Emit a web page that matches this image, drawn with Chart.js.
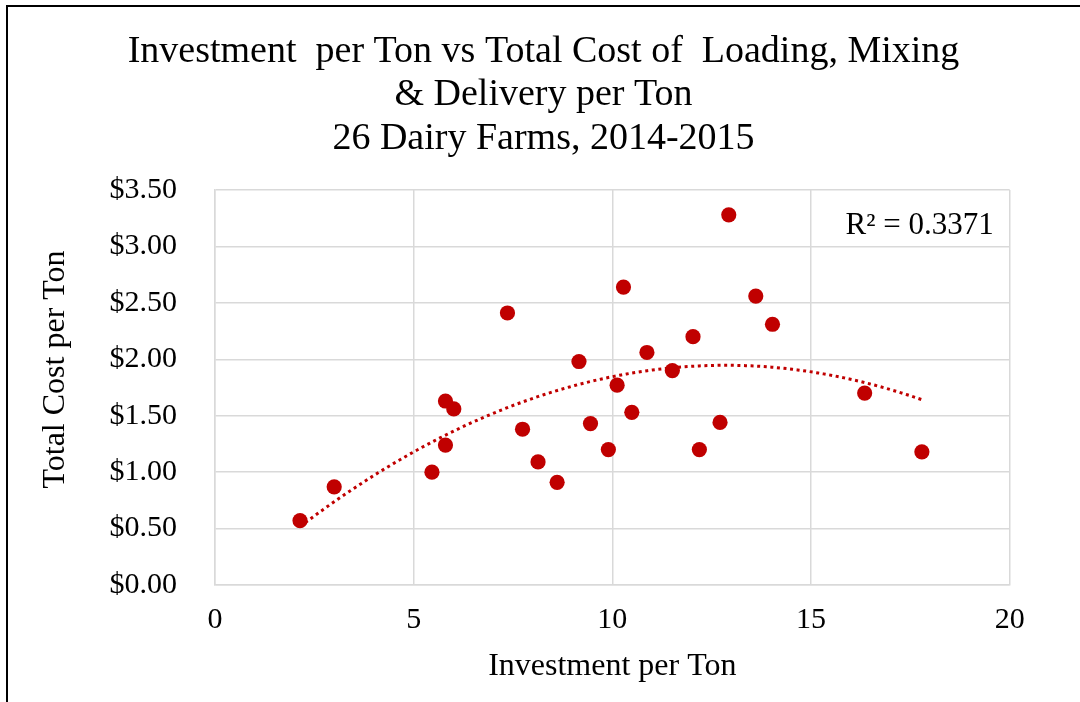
<!DOCTYPE html>
<html>
<head>
<meta charset="utf-8">
<script src="https://cdn.jsdelivr.net/npm/chart.js@4/dist/chart.umd.min.js"></script>
<style>
html,body{margin:0;padding:0;background:#fff;}
#wrap{width:1080px;height:702px;position:relative;}
</style>
</head>
<body>
<div id="wrap"><canvas id="c" width="1080" height="702"></canvas></div>
<script>
// Data
const investment = [2.14, 3.00, 5.46, 5.80, 6.01, 5.80, 7.36, 7.74, 8.13, 8.61, 9.16, 9.45, 9.90,
                    10.12, 10.28, 10.49, 10.87, 11.51, 12.03, 12.19, 12.71, 12.93, 13.61, 14.03, 16.35, 17.79];
const totalCost  = [0.57, 0.87, 1.00, 1.63, 1.56, 1.24, 2.41, 1.38, 1.09, 0.91, 1.98, 1.43, 1.20,
                    1.77, 2.64, 1.53, 2.06, 1.90, 2.20, 1.20, 1.44, 3.28, 2.56, 2.31, 1.70, 1.18];
const xTickLabels = ['0', '5', '10', '15', '20'];
const yTickLabels = ['$0.00', '$0.50', '$1.00', '$1.50', '$2.00', '$2.50', '$3.00', '$3.50'];
const titleLines = ['Investment  per Ton vs Total Cost of  Loading, Mixing', '& Delivery per Ton', '26 Dairy Farms, 2014-2015'];
const xTitle = 'Investment per Ton';
const yTitle = 'Total Cost per Ton';
const r2Label = 'R\u00B2 = 0.3371';

// Quadratic least-squares trendline computed from the data
function polyFit2(xs, ys) {
  let n = xs.length, s = [0,0,0,0,0], t = [0,0,0];
  for (let i = 0; i < n; i++) {
    let p = 1;
    for (let k = 0; k < 5; k++) { s[k] += p; if (k < 3) t[k] += p * ys[i]; p *= xs[i]; }
  }
  const A = [[s[0], s[1], s[2], t[0]], [s[1], s[2], s[3], t[1]], [s[2], s[3], s[4], t[2]]];
  for (let c = 0; c < 3; c++) {
    for (let r = c + 1; r < 3; r++) {
      const f = A[r][c] / A[c][c];
      for (let k = c; k < 4; k++) A[r][k] -= f * A[c][k];
    }
  }
  const b = [0,0,0];
  for (let r = 2; r >= 0; r--) {
    let v = A[r][3];
    for (let k = r + 1; k < 3; k++) v -= A[r][k] * b[k];
    b[r] = v / A[r][r];
  }
  return b;
}
const coef = polyFit2(investment, totalCost);
const xMin = Math.min(...investment), xMax = Math.max(...investment);
const trendPts = [];
for (let i = 0; i <= 120; i++) {
  const x = xMin + (xMax - xMin) * i / 120;
  trendPts.push({x: x, y: coef[0] + coef[1] * x + coef[2] * x * x});
}
const scatterPts = investment.map((x, i) => ({x: x, y: totalCost[i]}));

const FONT = "'Liberation Serif', 'Times New Roman', serif";
const RED = '#C00000';
const GRID = '#d9d9d9';

const decor = {
  id: 'decor',
  beforeDraw(chart) {
    const ctx = chart.ctx;
    ctx.save();
    ctx.fillStyle = '#fff';
    ctx.fillRect(0, 0, chart.width, chart.height);
    ctx.fillStyle = '#000';
    ctx.fillRect(6, 5, chart.width - 6, 2);
    ctx.fillRect(6, 5, 2, chart.height - 5);
    ctx.restore();
  },
  afterDraw(chart) {
    const ctx = chart.ctx, a = chart.chartArea;
    ctx.save();
    ctx.fillStyle = '#000';
    ctx.font = '31px ' + FONT;
    ctx.textAlign = 'right';
    ctx.textBaseline = 'alphabetic';
    ctx.fillText(r2Label, a.right - 16, a.top + 44);
    ctx.translate(56, (a.top + a.bottom) / 2 - 18);
    ctx.rotate(-Math.PI / 2);
    ctx.font = '32px ' + FONT;
    ctx.textAlign = 'center';
    ctx.textBaseline = 'middle';
    ctx.fillText(yTitle, 0, 0);
    ctx.restore();
  }
};

new Chart(document.getElementById('c'), {
  type: 'scatter',
  data: {
    datasets: [
      {
        label: 'Trend',
        data: trendPts,
        showLine: true,
        borderColor: RED,
        borderWidth: 3,
        borderDash: [3, 3.6],
        pointRadius: 0,
        fill: false,
        tension: 0
      },
      {
        label: 'Farms',
        data: scatterPts,
        backgroundColor: RED,
        borderColor: RED,
        borderWidth: 0,
        pointRadius: 7.6,
        pointHoverRadius: 7.6
      }
    ]
  },
  options: {
    responsive: false,
    animation: false,
    devicePixelRatio: 1,
    layout: { padding: { left: 77.3, right: 70.3, top: 0, bottom: 0 } },
    plugins: {
      legend: { display: false },
      tooltip: { enabled: false },
      title: {
        display: true,
        text: titleLines,
        color: '#000',
        font: { family: FONT, size: 38, weight: 'normal', lineHeight: 1.14 },
        padding: { top: 30.5, bottom: 29.5 }
      }
    },
    scales: {
      x: {
        type: 'linear',
        min: 0, max: 20,
        afterBuildTicks(scale) { scale.ticks = xTickLabels.map(v => ({value: Number(v)})); },
        afterFit(scale) { scale.height = 117; },
        ticks: {
          color: '#000',
          font: { family: FONT, size: 30 },
          padding: 17,
          maxRotation: 0,
          callback: (v, i) => xTickLabels[i]
        },
        grid: { color: GRID, lineWidth: 1.5, drawTicks: false },
        border: { color: GRID, width: 1.5 },
        title: {
          display: true,
          text: xTitle,
          color: '#000',
          font: { family: FONT, size: 32 },
          padding: { top: 0, bottom: 15.8 }
        }
      },
      y: {
        type: 'linear',
        min: 0, max: 3.5,
        afterBuildTicks(scale) { scale.ticks = yTickLabels.map((s, i) => ({value: i * 0.5})); },
        afterFit(scale) { scale.width = 215 - 77.3; },
        ticks: {
          color: '#000',
          font: { family: FONT, size: 30 },
          padding: 38,
          callback: (v, i) => yTickLabels[i]
        },
        grid: { color: GRID, lineWidth: 1.5, drawTicks: false },
        border: { color: GRID, width: 1.5 }
      }
    }
  },
  plugins: [decor]
});
</script>
</body>
</html>
